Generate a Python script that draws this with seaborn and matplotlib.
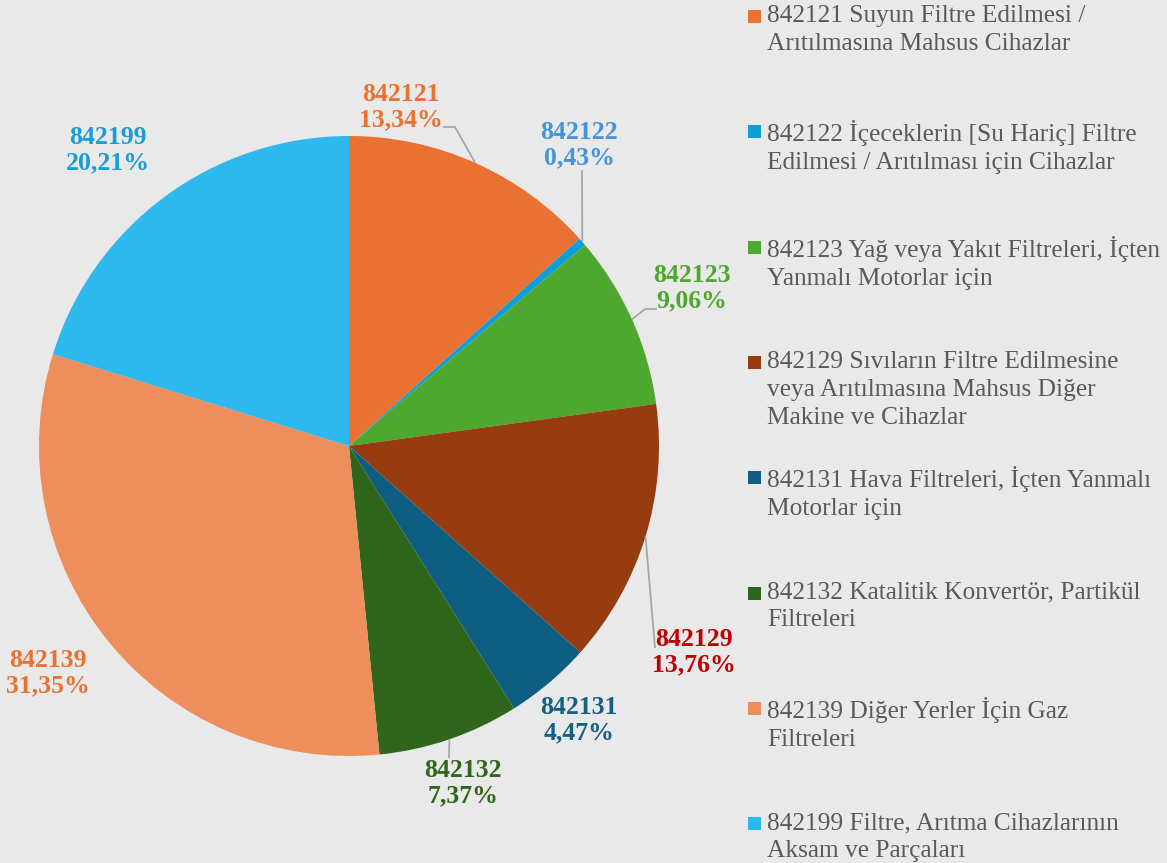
import numpy as np
import matplotlib
matplotlib.use('Agg')
import matplotlib.pyplot as plt
from matplotlib.patches import Rectangle
import seaborn as sns

# ─────────────────────────────────────────────────────────────────────────────
# DATA
# ─────────────────────────────────────────────────────────────────────────────
codes = ['842121', '842122', '842123', '842129', '842131', '842132', '842139', '842199']
shares = [13.34, 0.43, 9.06, 13.76, 4.47, 7.37, 31.35, 20.21]
share_labels = ['13,34%', '0,43%', '9,06%', '13,76%', '4,47%', '7,37%', '31,35%', '20,21%']
legend_labels = [
    '842121 Suyun Filtre Edilmesi /\nArıtılmasına Mahsus Cihazlar',
    '842122 İçeceklerin [Su Hariç] Filtre\nEdilmesi / Arıtılması için Cihazlar',
    '842123 Yağ veya Yakıt Filtreleri, İçten\nYanmalı Motorlar için',
    '842129 Sıvıların Filtre Edilmesine\nveya Arıtılmasına Mahsus Diğer\nMakine ve Cihazlar',
    '842131 Hava Filtreleri, İçten Yanmalı\nMotorlar için',
    '842132 Katalitik Konvertör, Partikül\nFiltreleri',
    '842139 Diğer Yerler İçin Gaz\nFiltreleri',
    '842199 Filtre, Arıtma Cihazlarının\nAksam ve Parçaları',
]

wedge_colors = ['#E97132', '#0F9ED5', '#4EA72E', '#973C10',
                '#0D5E80', '#2F661B', '#EE8E5D', '#2DB9EE']
label_colors = ['#E97132', '#4593DC', '#4EA72E', '#C00000',
                '#145F82', '#2F661B', '#E97132', '#1A9DD6']

# ─────────────────────────────────────────────────────────────────────────────
# LAYOUT (pixel positions of the reference, converted to pie units)
# ─────────────────────────────────────────────────────────────────────────────
W, H = 1167, 863
CX, CY, R = 349, 446, 310


def px(x, y):
    return (x - CX) / R, (CY - y) / R


label_pos = [px(401, 107), px(579, 145), px(692, 288), px(694, 652),
             px(579, 720), px(463, 783), px(48, 673), px(108, 150)]
# extra bends of leader lines after the wedge edge (None = no leader)
leader_bends = [
    [px(455, 127), px(443, 127)],
    [px(582, 170)],
    [px(645, 309), px(657, 309)],
    [px(655, 648)],
    None,
    [px(449, 758)],
    None,
    None,
]

BG = '#E9E9E9'
FONT = ['Liberation Serif', 'DejaVu Serif']

sns.set_theme(style='white')
plt.rcParams['font.family'] = FONT

fig = plt.figure(figsize=(W / 100, H / 100), dpi=100)
fig.patch.set_facecolor(BG)
ax = fig.add_axes([0, 0, 1, 1])
ax.set_facecolor(BG)

palette = sns.color_palette(wedge_colors)
wedges, _ = ax.pie(shares, colors=palette, startangle=90, counterclock=False,
                   radius=1.0, wedgeprops=dict(linewidth=0))

ax.set_xlim(-CX / R, (W - CX) / R)
ax.set_ylim(-(H - CY) / R, CY / R)
ax.set_aspect('auto')
ax.axis('off')

# data labels + leader lines
for i, w in enumerate(wedges):
    mid = np.deg2rad((w.theta1 + w.theta2) / 2)
    edge = (np.cos(mid), np.sin(mid))
    if leader_bends[i] is not None:
        pts = [edge] + leader_bends[i]
        xs, ys = zip(*pts)
        ax.plot(xs, ys, color='#A6A6A6', lw=1.3, solid_capstyle='butt')
    lx, ly = label_pos[i]
    ax.text(lx, ly, f'{codes[i]}\n{share_labels[i]}', ha='center', va='center',
            fontsize=18.5, fontweight='bold', color=label_colors[i],
            linespacing=1.12)

# legend drawn by hand so every entry starts on an even grid like the original
leg_top, leg_step = 16, 115.3
for i, lab in enumerate(legend_labels):
    yc = leg_top + i * leg_step
    fig.add_artist(Rectangle((748 / W, 1 - (yc + 7) / H), 13 / W, 13 / H,
                             transform=fig.transFigure, color=wedge_colors[i], lw=0))
    fig.text(767 / W, 1 - (yc - 11) / H, lab, ha='left', va='top',
             fontsize=18.3, color='#595959', linespacing=1.35)

plt.savefig('out.png', dpi=100, facecolor=BG)
